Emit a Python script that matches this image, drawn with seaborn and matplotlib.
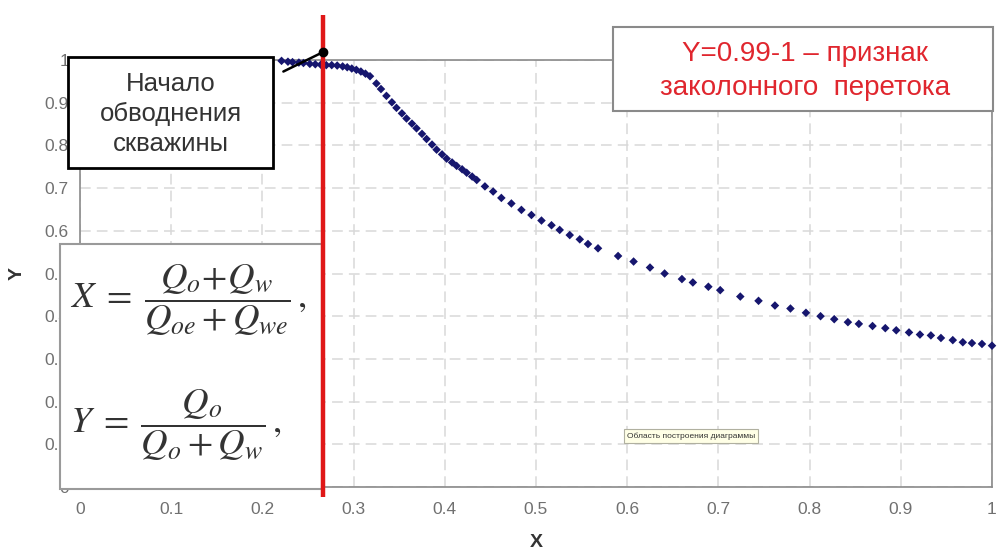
import matplotlib
matplotlib.use("Agg")
import matplotlib.pyplot as plt
from matplotlib.patches import Rectangle
import numpy as np
import pandas as pd
import seaborn as sns

# Relative liquid production X versus oil fraction Y
x_vals = [0.221, 0.228, 0.233, 0.240, 0.245, 0.252, 0.258, 0.264, 0.270, 0.276,
          0.282, 0.288, 0.293, 0.298, 0.303, 0.308, 0.313, 0.318,
          0.325, 0.330, 0.336, 0.342, 0.347, 0.353, 0.358, 0.364, 0.369, 0.375,
          0.380, 0.386, 0.391, 0.397, 0.402, 0.408, 0.413, 0.419, 0.424, 0.430,
          0.435, 0.444, 0.453, 0.462, 0.473, 0.484, 0.495, 0.506, 0.517, 0.526,
          0.537, 0.548, 0.557, 0.568, 0.590, 0.607, 0.625, 0.641, 0.660, 0.672,
          0.689, 0.702, 0.724, 0.744, 0.762, 0.779, 0.796, 0.812, 0.827, 0.842,
          0.854, 0.869, 0.883, 0.895, 0.909, 0.921, 0.933, 0.944, 0.957, 0.968,
          0.978, 0.989, 1.000]
y_vals = [0.998, 0.996, 0.995, 0.994, 0.993, 0.991, 0.990, 0.989, 0.988, 0.988,
          0.987, 0.985, 0.983, 0.980, 0.977, 0.973, 0.968, 0.962,
          0.945, 0.932, 0.916, 0.901, 0.888, 0.875, 0.863, 0.851, 0.840, 0.827,
          0.815, 0.802, 0.790, 0.779, 0.769, 0.760, 0.752, 0.744, 0.736, 0.727,
          0.719, 0.704, 0.692, 0.677, 0.664, 0.649, 0.637, 0.624, 0.613, 0.602,
          0.590, 0.580, 0.569, 0.559, 0.541, 0.528, 0.514, 0.500, 0.487, 0.479,
          0.469, 0.461, 0.446, 0.436, 0.425, 0.418, 0.408, 0.400, 0.393, 0.386,
          0.382, 0.377, 0.372, 0.367, 0.362, 0.357, 0.355, 0.349, 0.344, 0.339,
          0.337, 0.335, 0.331]

# Start of watering marker
x_water_start = 0.266
pointer_x = [0.223, 0.266]
pointer_y = [0.973, 1.018]

tick_values = [0, 0.1, 0.2, 0.3, 0.4, 0.5, 0.6, 0.7, 0.8, 0.9, 1]
tick_labels = ["0", "0.1", "0.2", "0.3", "0.4", "0.5", "0.6", "0.7", "0.8", "0.9", "1"]

sns.set_theme(style="white")
plt.rcParams["font.family"] = ["Liberation Sans", "DejaVu Sans"]
plt.rcParams["mathtext.fontset"] = "stix"

W, H = 998, 549
fig = plt.figure(figsize=(W / 100, H / 100), dpi=100)
fig.patch.set_facecolor("white")


def fx(px):
    return px / W


def fy(py):
    return 1 - py / H


ax = fig.add_axes([fx(80), fy(487), fx(992) - fx(80), fy(60) - fy(487)])

df = pd.DataFrame({"X": x_vals, "Y": y_vals})
sns.scatterplot(data=df, x="X", y="Y", ax=ax, marker="D", s=19,
                color="#16166e", edgecolor="none", zorder=4, clip_on=False)

ax.set_xlim(0, 1)
ax.set_ylim(0, 1)
ax.set_xticks(tick_values)
ax.set_xticklabels(tick_labels)
ax.set_yticks(tick_values)
ax.set_yticklabels(tick_labels)
ax.grid(True, color="#d8d8d8", linestyle=(0, (7, 4)), linewidth=1.1)
for s in ax.spines.values():
    s.set_color("#8a8a8a")
    s.set_linewidth(1.2)
ax.tick_params(axis="both", which="major", direction="inout", length=6,
               width=1.1, color="#8a8a8a", labelcolor="#707070", labelsize=12.5)
ax.tick_params(axis="x", pad=8)
ax.tick_params(axis="y", pad=5)
ax.set_xlabel("X", fontsize=14, fontweight="bold", color="#333333", labelpad=12)
ax.set_ylabel("Y", fontsize=14, fontweight="bold", color="#333333", labelpad=14)

# Vertical red line: onset of watering
ax.plot([x_water_start, x_water_start], [-0.023, 1.105], color="#e01818",
        linewidth=3.2, clip_on=False, zorder=8, solid_capstyle="butt")

# Pointer segment to the watering onset
ax.plot(pointer_x, pointer_y, color="black", linewidth=1.8, clip_on=False, zorder=9)
ax.plot([pointer_x[1]], [pointer_y[1]], marker="o", markersize=6, color="black",
        clip_on=False, zorder=9)

# Boxes with annotations
def add_box(x0, y0, x1, y1, edge, lw):
    r = Rectangle((fx(x0), fy(y1)), fx(x1) - fx(x0), fy(y0) - fy(y1),
                  transform=fig.transFigure, facecolor="white", edgecolor=edge,
                  linewidth=lw, clip_on=False, zorder=6)
    ax.add_patch(r)


add_box(68, 57, 273, 168, "black", 2.0)
ax.text(fx(171), fy(114), "Начало\nобводнения\nскважины", transform=fig.transFigure,
        ha="center", va="center", fontsize=18.5, color="#333333", linespacing=1.32,
        zorder=7, clip_on=False)

add_box(613, 27, 993, 111, "#8a8a8a", 1.5)
ax.text(fx(805), fy(71), "Y=0.99-1 – признак\nзаколонного  перетока",
        transform=fig.transFigure, ha="center", va="center", fontsize=20,
        color="#e0262e", linespacing=1.4, zorder=7, clip_on=False)

add_box(60, 244, 322, 489, "#9a9a9a", 1.5)
ax.text(fx(70), fy(300), r"$X\;=\;\dfrac{Q_o\!+\!Q_w}{Q_{oe} + Q_{we}}\,,$",
        transform=fig.transFigure, ha="left", va="center", fontsize=26.5,
        color="#333333", zorder=7, clip_on=False)
ax.text(fx(70), fy(425), r"$Y\;=\;\dfrac{Q_o}{Q_o + Q_w}\,,$",
        transform=fig.transFigure, ha="left", va="center", fontsize=26.5,
        color="#333333", zorder=7, clip_on=False)

# Chart-area tooltip
ax.text(fx(691), fy(436), "Область построения диаграммы", transform=fig.transFigure,
        ha="center", va="center", fontsize=6, color="#333333", zorder=7,
        bbox=dict(boxstyle="square,pad=0.35", facecolor="#ffffe6",
                  edgecolor="#b0b0a0", linewidth=0.8))

fig.savefig("out.png", dpi=100, facecolor="white")
